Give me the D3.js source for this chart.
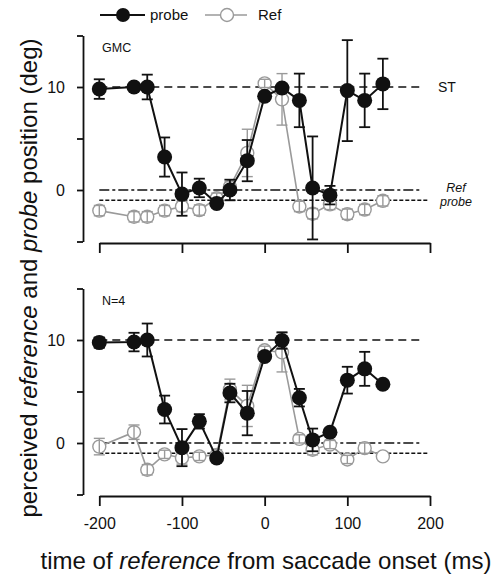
<!DOCTYPE html>
<html>
<head>
<meta charset="utf-8">
<script src="https://cdn.jsdelivr.net/npm/d3@7"></script>
<style>
  body { margin: 0; background: #fff; }
  svg { font-family: "Liberation Sans", Arial, sans-serif; }
</style>
</head>
<body>
<div id="chart"></div>
<script>
// time bins (ms from saccade onset)
const times = [-200, -158, -142, -121, -100, -79, -58, -42, -21, 0, 21, 42, 58, 79, 100, 121, 143];

// top panel: subject GMC
const gmcProbe    = [9.8, 10.0, 10.0, 3.2, -0.4, 0.2, -1.3, 0.0, 2.85, 9.1, 9.9, 8.7, 0.2, -0.5, 9.65, 8.7, 10.3];
const gmcProbeErr = [0.95, 0.2, 1.2, 1.9, 2.1, 0.9, 0.3, 1.0, 2.0, 0.3, 0.3, 2.6, 5.0, 0.9, 4.9, 2.6, 2.45];
const gmcRef      = [-2.0, -2.6, -2.6, -2.0, -1.6, -1.95, -0.8, 0.3, 3.6, 10.35, 8.8, -1.6, -2.3, -1.4, -2.35, -1.9, -1.05];
const gmcRefErr   = [0.5, 0.5, 0.5, 0.5, 0.5, 0.5, 0.5, 0.5, 2.3, 0.4, 2.5, 0.5, 0.5, 0.5, 0.5, 0.5, 0.5];

// bottom panel: average N=4
const avgProbe    = [9.75, 9.8, 10.0, 3.25, -0.45, 2.1, -1.45, 4.85, 2.9, 8.4, 9.95, 4.4, 0.3, 1.05, 6.1, 7.2, 5.7];
const avgProbeErr = [0.5, 0.9, 1.6, 1.35, 1.8, 0.7, 0.3, 0.9, 2.15, 0.3, 0.8, 0.85, 1.1, 0.2, 1.3, 1.65, 0];
const avgRef      = [-0.35, 1.05, -2.6, -1.1, -1.45, -1.3, -1.15, 5.2, 3.6, 9.0, 8.8, 0.4, -0.65, -0.15, -1.6, -0.5, -1.3];
const avgRefErr   = [0.8, 0.7, 0.5, 0.4, 0.6, 0.4, 0.5, 1.0, 2.0, 0.4, 1.9, 0.4, 0.5, 0.4, 0.4, 0.5, 0];

// reference levels: saccade target, Ref, probe
const stLevel = 10;
const refLevel = 0;
const probeLevel = -1;

const xTicks = [-200, -100, 0, 100, 200];
const yTicks = [-5, 0, 5, 10, 15];
const yLabelled = [0, 10];

const width = 497, height = 575;
const grey = "#9a9a9a";

const svg = d3.select("#chart")
    .append("svg")
    .attr("width", width)
    .attr("height", height);

const x = d3.scaleLinear()
    .domain([-200, 200])
    .range([99.3, 430]);

function panel(top, label, probe, probeErr, ref, refErr, showXLabels, showRightLabels) {
    const y = d3.scaleLinear()
        .domain([-5, 15])
        .range([top + 206, top]);

    const g = svg.append("g");

    // y axis
    g.append("g")
        .attr("transform", "translate(83,0)")
        .call(d3.axisLeft(y).tickValues(yTicks).tickSize(6).tickSizeOuter(0).tickPadding(12)
            .tickFormat(d => yLabelled.includes(d) ? d : ""))
        .call(a => a.selectAll("path,line").attr("stroke", "#111").attr("stroke-width", 1.8))
        .call(a => a.selectAll("text").attr("font-size", 16).attr("fill", "#111")
            .attr("font-family", "Liberation Sans, Arial, sans-serif"));

    // x axis
    g.append("g")
        .attr("transform", "translate(0," + (top + 207.5) + ")")
        .call(d3.axisBottom(x).tickValues(xTicks).tickSize(10).tickSizeOuter(0).tickPadding(12)
            .tickFormat(d => showXLabels ? d : ""))
        .call(a => a.selectAll("path,line").attr("stroke", "#111").attr("stroke-width", 1.8))
        .call(a => a.selectAll("text").attr("font-size", 16).attr("fill", "#111")
            .attr("font-family", "Liberation Sans, Arial, sans-serif"));

    // reference lines
    g.append("line")
        .attr("x1", x(-200)).attr("x2", x(187))
        .attr("y1", y(stLevel)).attr("y2", y(stLevel))
        .attr("stroke", "#111").attr("stroke-width", 1.5)
        .attr("stroke-dasharray", "8,5");
    g.append("line")
        .attr("x1", x(-200)).attr("x2", x(190))
        .attr("y1", y(refLevel)).attr("y2", y(refLevel))
        .attr("stroke", "#111").attr("stroke-width", 1.5)
        .attr("stroke-dasharray", "10,3,3,3");
    g.append("line")
        .attr("x1", x(-200)).attr("x2", x(197))
        .attr("y1", y(probeLevel)).attr("y2", y(probeLevel))
        .attr("stroke", "#111").attr("stroke-width", 1.5)
        .attr("stroke-dasharray", "4,2");

    if (showRightLabels) {
        g.append("text")
            .attr("x", 438).attr("y", y(stLevel) + 5)
            .attr("font-size", 14).attr("fill", "#111")
            .text("ST");
        g.append("text")
            .attr("x", 456).attr("y", y(refLevel) + 2)
            .attr("text-anchor", "middle")
            .attr("font-size", 12.5).attr("font-style", "italic").attr("fill", "#111")
            .text("Ref");
        g.append("text")
            .attr("x", 456).attr("y", y(probeLevel) + 5.5)
            .attr("text-anchor", "middle")
            .attr("font-size", 12.5).attr("font-style", "italic").attr("fill", "#111")
            .text("probe");
    }

    g.append("text")
        .attr("x", 102).attr("y", top + 16)
        .attr("font-size", 12.5).attr("fill", "#111")
        .text(label);

    const refData = times.map((t, i) => ({t: t, v: ref[i], e: refErr[i]}));
    const probeData = times.map((t, i) => ({t: t, v: probe[i], e: probeErr[i]}));

    const line = d3.line().x(d => x(d.t)).y(d => y(d.v));

    function errorBars(data, color, width) {
        const eb = g.append("g")
            .selectAll("g")
            .data(data.filter(d => d.e > 0))
            .join("g")
            .attr("stroke", color)
            .attr("stroke-width", width);
        eb.append("line")
            .attr("x1", d => x(d.t)).attr("x2", d => x(d.t))
            .attr("y1", d => y(d.v - d.e)).attr("y2", d => y(d.v + d.e));
        eb.append("line")
            .attr("x1", d => x(d.t) - 5.5).attr("x2", d => x(d.t) + 5.5)
            .attr("y1", d => y(d.v - d.e)).attr("y2", d => y(d.v - d.e));
        eb.append("line")
            .attr("x1", d => x(d.t) - 5.5).attr("x2", d => x(d.t) + 5.5)
            .attr("y1", d => y(d.v + d.e)).attr("y2", d => y(d.v + d.e));
    }

    // Ref series (grey, open)
    g.append("path")
        .datum(refData)
        .attr("fill", "none")
        .attr("stroke", grey)
        .attr("stroke-width", 1.6)
        .attr("d", line);
    g.append("g")
        .selectAll("circle")
        .data(refData)
        .join("circle")
        .attr("cx", d => x(d.t))
        .attr("cy", d => y(d.v))
        .attr("r", 6.5)
        .attr("fill", "#fff")
        .attr("stroke", grey)
        .attr("stroke-width", 1.4);
    errorBars(refData, grey, 1.4);

    // probe series (black, filled)
    g.append("path")
        .datum(probeData)
        .attr("fill", "none")
        .attr("stroke", "#111")
        .attr("stroke-width", 2)
        .attr("d", line);
    errorBars(probeData, "#111", 1.8);
    g.append("g")
        .selectAll("circle")
        .data(probeData)
        .join("circle")
        .attr("cx", d => x(d.t))
        .attr("cy", d => y(d.v))
        .attr("r", 7.5)
        .attr("fill", "#111");
}

panel(35.5, "GMC", gmcProbe, gmcProbeErr, gmcRef, gmcRefErr, false, true);
panel(288.5, "N=4", avgProbe, avgProbeErr, avgRef, avgRefErr, true, false);

// legend
const legend = svg.append("g");
legend.append("line")
    .attr("x1", 100).attr("x2", 145).attr("y1", 15).attr("y2", 15)
    .attr("stroke", "#111").attr("stroke-width", 2);
legend.append("circle")
    .attr("cx", 123).attr("cy", 15).attr("r", 7)
    .attr("fill", "#111");
legend.append("text")
    .attr("x", 150).attr("y", 20)
    .attr("font-size", 15).attr("fill", "#111")
    .text("probe");
legend.append("line")
    .attr("x1", 205).attr("x2", 247).attr("y1", 15).attr("y2", 15)
    .attr("stroke", grey).attr("stroke-width", 1.6);
legend.append("circle")
    .attr("cx", 227).attr("cy", 15).attr("r", 6.5)
    .attr("fill", "#fff").attr("stroke", grey).attr("stroke-width", 1.4);
legend.append("text")
    .attr("x", 258).attr("y", 20)
    .attr("font-size", 15).attr("fill", "#111")
    .text("Ref");

// axis titles
const yTitle = svg.append("text")
    .attr("transform", "translate(37,278) rotate(-90)")
    .attr("text-anchor", "middle")
    .attr("font-size", 24)
    .attr("fill", "#111");
yTitle.append("tspan").text("perceived ");
yTitle.append("tspan").attr("font-style", "italic").text("reference");
yTitle.append("tspan").text(" and ");
yTitle.append("tspan").attr("font-style", "italic").text("probe");
yTitle.append("tspan").text(" position (deg)");

const xTitle = svg.append("text")
    .attr("x", 266).attr("y", 569)
    .attr("text-anchor", "middle")
    .attr("font-size", 24)
    .attr("fill", "#111");
xTitle.append("tspan").text("time of ");
xTitle.append("tspan").attr("font-style", "italic").text("reference");
xTitle.append("tspan").text(" from saccade onset (ms)");
</script>
</body>
</html>
